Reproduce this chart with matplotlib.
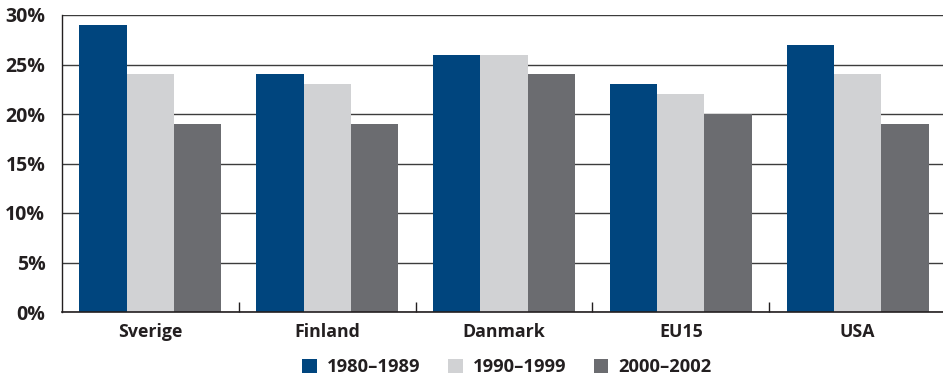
import matplotlib
matplotlib.use("Agg")
import matplotlib.pyplot as plt
from matplotlib.ticker import FixedLocator, PercentFormatter
from matplotlib.patches import Patch
import numpy as np

categories = ["Sverige", "Finland", "Danmark", "EU15", "USA"]
series_names = ["1980–1989", "1990–1999", "2000–2002"]
values_1980s = [29, 24, 26, 23, 27]
values_1990s = [24, 23, 26, 22, 24]
values_2000s = [19, 19, 24, 20, 19]
y_ticks = [0, 5, 10, 15, 20, 25, 30]

colors = ["#00457e", "#d1d2d4", "#6b6c70"]
series = [values_1980s, values_1990s, values_2000s]

plt.rcParams["font.family"] = ["Open Sans", "DejaVu Sans"]

fig = plt.figure(figsize=(9.43, 3.8), dpi=100)
ax = fig.add_axes([62 / 943, 1 - 312 / 380, 1 - 62 / 943, (312 - 15) / 380])

x = np.arange(len(categories))
bw = 0.268
for i, (vals, c) in enumerate(zip(series, colors)):
    ax.bar(x + (i - 1) * bw, vals, width=bw, color=c, zorder=3, label=series_names[i])

ax.set_xlim(-0.5, 4.483)
ax.set_ylim(0, 30)
ax.yaxis.set_major_locator(FixedLocator(y_ticks))
ax.yaxis.set_major_formatter(PercentFormatter(decimals=0))
ax.grid(axis="y", color="#3c3c3c", linewidth=1.0, zorder=1)
ax.tick_params(axis="y", length=0, pad=12, labelsize=14, labelcolor="#231f20")
for lab in ax.get_yticklabels():
    lab.set_fontweight("bold")

ax.set_xticks(x)
ax.set_xticklabels(categories, fontsize=12.8, fontweight="bold", color="#231f20")
ax.tick_params(axis="x", which="major", length=0, pad=8)
ax.xaxis.set_minor_locator(FixedLocator(np.arange(0.5, 4.5, 1.0)))
ax.tick_params(axis="x", which="minor", direction="in", length=7, width=1, color="#231f20")

for s in ["top", "right"]:
    ax.spines[s].set_visible(False)
ax.spines["left"].set_color("#231f20")
ax.spines["left"].set_linewidth(1.0)
ax.spines["bottom"].set_color("#231f20")
ax.spines["bottom"].set_linewidth(1.2)
ax.spines["bottom"].set_zorder(4)

handles = [Patch(facecolor=c, edgecolor="none") for c in colors]
fig.legend(handles, series_names, loc="center", bbox_to_anchor=(507 / 943, 1 - 367 / 380),
           ncol=3, frameon=False, prop={"weight": "bold", "size": 13.2},
           handlelength=0.8, handleheight=0.8, handletextpad=0.55, columnspacing=1.5,
           labelcolor="#231f20")

fig.savefig("out.png", dpi=100)
